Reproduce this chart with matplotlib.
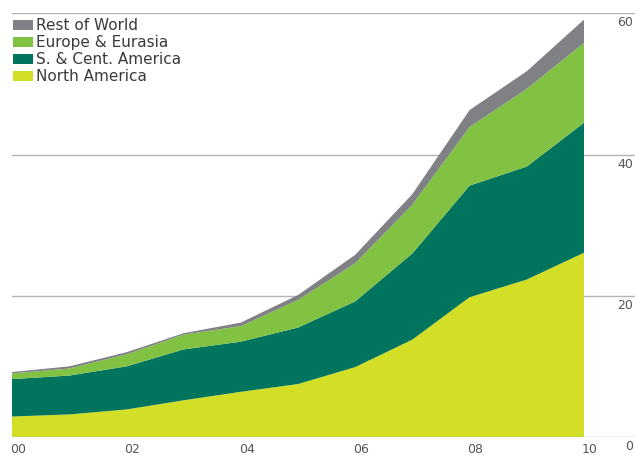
import matplotlib.pyplot as plt
import matplotlib.transforms as mtransforms

# ── Data ───────────────────────────────────────────────────────────────────
years = [2000, 2001, 2002, 2003, 2004, 2005, 2006, 2007, 2008, 2009, 2010]
north_america = [2.9, 3.2, 3.9, 5.2, 6.4, 7.5, 9.9, 13.8, 19.8, 22.3, 26.1]
sc_america = [5.3, 5.5, 6.1, 7.2, 7.1, 8.0, 9.3, 12.2, 15.8, 16.0, 18.4]
europe_eurasia = [0.8, 1.0, 1.7, 2.1, 2.2, 3.9, 5.4, 6.9, 8.3, 11.0, 11.3]
rest_of_world = [0.2, 0.3, 0.3, 0.2, 0.5, 0.7, 1.2, 1.5, 2.4, 2.5, 3.3]

series_labels = ["North America", "S. & Cent. America", "Europe & Eurasia", "Rest of World"]
series_colors = ["#d3de26", "#00745c", "#82c242", "#808185"]

x_ticks = [2000, 2002, 2004, 2006, 2008, 2010]
x_ticklabels = ["00", "02", "04", "06", "08", "10"]
y_ticks = [0, 20, 40, 60]

plt.rcParams.update({"font.family": ["DejaVu Sans"]})

fig = plt.figure(figsize=(6.35, 4.55), dpi=100)
ax = fig.add_axes([12 / 635, 18 / 455, 623 / 635, (437 - 13.3) / 455])

ax.stackplot(years, north_america, sc_america, europe_eurasia, rest_of_world,
             colors=series_colors, labels=series_labels, linewidth=0)

ax.set_xlim(2000, 2000 + 623 / 57.2)
ax.set_ylim(0, 60)

# gridlines run across full width, labels sit just under them on the right
for v in y_ticks:
    ax.axhline(v, color="#b4b4b4", lw=1.0, zorder=0 if v else 3)
    ax.text(0.997, v - 0.45, str(v), transform=ax.get_yaxis_transform(),
            ha="right", va="top", fontsize=9, color="#555555")

ax.set_yticks([])
ax.set_xticks(x_ticks)
ax.set_xticklabels(x_ticklabels, fontsize=9, color="#555555")
ax.tick_params(axis="x", length=0, pad=4)
offset = mtransforms.ScaledTranslation(6 / 100, 0, fig.dpi_scale_trans)
for lab in ax.get_xticklabels():
    lab.set_transform(lab.get_transform() + offset)
for s in ax.spines.values():
    s.set_visible(False)

handles, labels = ax.get_legend_handles_labels()
ax.legend(handles[::-1], labels[::-1], loc="upper left",
          bbox_to_anchor=(1 / 623, 1 - 5 / 424),
          frameon=False, fontsize=11, handlelength=1.3, handleheight=0.65,
          handletextpad=0.2, labelspacing=0.13, borderaxespad=0, borderpad=0,
          labelcolor="#3a3a3a")

plt.savefig("out.png", dpi=100)
plt.close()
